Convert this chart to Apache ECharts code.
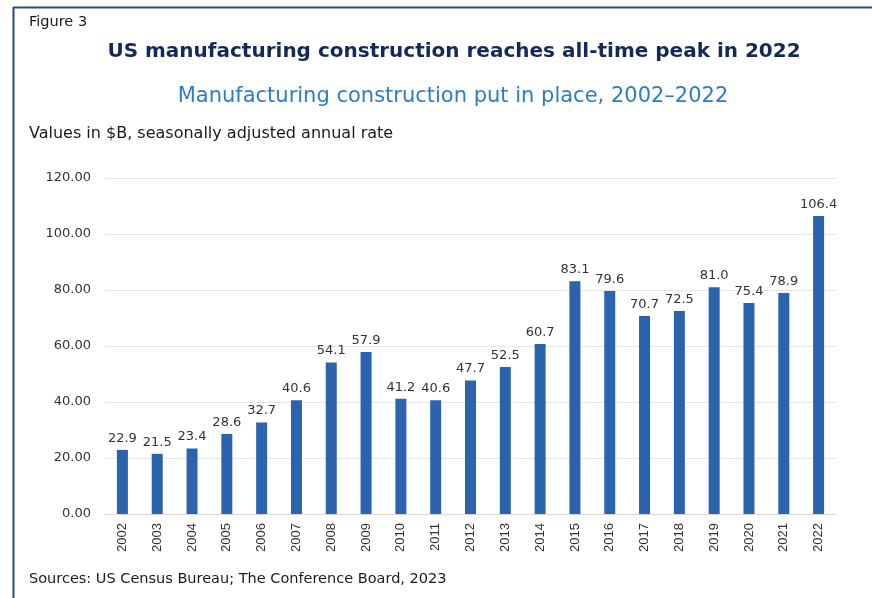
<!DOCTYPE html>
<html><head><meta charset="utf-8">
<script src="https://cdn.jsdelivr.net/npm/echarts@6/dist/echarts.min.js"></script>
<style>html,body{margin:0;padding:0;background:#fff}#c{width:872px;height:598px}</style>
</head><body><div id="c"></div>
<script>
const years = ['2002','2003','2004','2005','2006','2007','2008','2009','2010','2011','2012','2013','2014','2015','2016','2017','2018','2019','2020','2021','2022'];
const values = [22.9,21.5,23.4,28.6,32.7,40.6,54.1,57.9,41.2,40.6,47.7,52.5,60.7,83.1,79.6,70.7,72.5,81.0,75.4,78.9,106.4];
const yTicks = {min:0, max:120, interval:20};
const F = '"DejaVu Sans", sans-serif';
const FL = '"Liberation Sans", Arial, sans-serif';
const chart = echarts.init(document.getElementById('c'), null, {renderer:'canvas'});
chart.setOption({
  animation:false,
  textStyle:{fontFamily:F},
  title:[
    {text:'Figure 3', left:29, top:15, padding:0, textStyle:{fontSize:14.5, fontWeight:'normal', color:'#1a1a1a', fontFamily:F}},
    {text:'US manufacturing construction reaches all-time peak in 2022', left:454, textAlign:'center', top:42, padding:0, textStyle:{fontSize:20, fontWeight:'bold', color:'#14285a', fontFamily:F}},
    {text:'Manufacturing construction put in place, 2002\u20132022', left:453, textAlign:'center', top:86, padding:0, textStyle:{fontSize:21, fontWeight:'normal', color:'#2e7dc4', fontFamily:F}},
    {text:'Values in $B, seasonally adjusted annual rate', left:29, top:126, padding:0, textStyle:{fontSize:16, fontWeight:'normal', color:'#1a1a1a', fontFamily:F}},
    {text:'Sources: US Census Bureau; The Conference Board, 2023', left:29, top:572, padding:0, textStyle:{fontSize:14.5, fontWeight:'normal', color:'#1a1a1a', fontFamily:F}}
  ],
  graphic:[
    {type:'line', shape:{x1:13.5,y1:7,x2:13.5,y2:598}, style:{stroke:'#2c4a7c', lineWidth:2}},
    {type:'line', shape:{x1:13,y1:7.5,x2:872,y2:7.5}, style:{stroke:'#2c4a7c', lineWidth:2}}
  ],
  grid:{left:105, right:36, top:178, bottom:84, containLabel:false},
  xAxis:{type:'category', data:years,
    axisLine:{show:true, lineStyle:{color:'#d9d9d9'}}, axisTick:{show:false},
    axisLabel:{rotate:90, fontSize:13, color:'#333', margin:9, fontFamily:FL}},
  yAxis:{type:'value', min:yTicks.min, max:yTicks.max, interval:yTicks.interval,
    axisLine:{show:false}, axisTick:{show:false},
    splitLine:{lineStyle:{color:'#e6e6e6'}},
    axisLabel:{fontSize:13, color:'#333', margin:14, fontFamily:F, formatter:v=>v.toFixed(2)}},
  series:[{type:'bar', data:values, barWidth:11,
    itemStyle:{color:'#2b63ad'},
    label:{show:true, position:'top', fontSize:13, color:'#333', distance:5, fontFamily:F, formatter:p=>p.value.toFixed(1)}}]
});
</script></body></html>
